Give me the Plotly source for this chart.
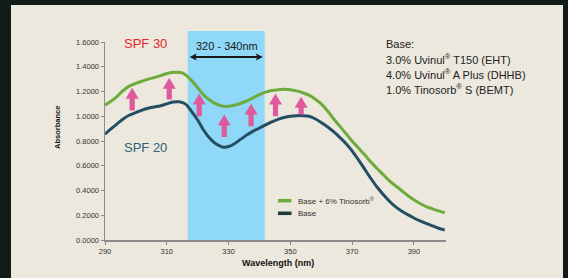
import plotly.graph_objects as go

# ---- data ----
wavelength = [290, 293, 296, 298, 301, 304, 307, 310, 313, 315, 318, 320, 322, 324, 326, 328,
              330, 332, 334, 336, 338, 340, 342, 344, 346, 348, 350, 352, 354, 356, 358, 360,
              362, 364, 366, 368, 370, 372, 374, 376, 378, 380, 382, 384, 386, 388, 390, 392,
              394, 396, 398, 400]
spf30 = [1.09, 1.14, 1.21, 1.245, 1.275, 1.30, 1.32, 1.345, 1.355, 1.35, 1.29, 1.23, 1.17, 1.13,
         1.10, 1.082, 1.08, 1.09, 1.105, 1.125, 1.15, 1.175, 1.195, 1.208, 1.215, 1.218, 1.215,
         1.205, 1.19, 1.17, 1.14, 1.10, 1.045, 0.98, 0.92, 0.86, 0.80, 0.745, 0.69, 0.632, 0.58,
         0.53, 0.48, 0.44, 0.40, 0.36, 0.325, 0.295, 0.27, 0.252, 0.235, 0.22]
wl_base = [290, 292, 294, 296, 298, 300, 302, 304, 306, 308, 310, 312, 314, 316, 318, 320, 322,
           324, 326, 328, 330, 332, 334, 336, 338, 340, 342, 344, 346, 348, 350, 352, 354, 356,
           358, 360, 362, 364, 366, 368, 370, 372, 374, 376, 378, 380, 382, 384, 386, 388, 390,
           392, 394, 396, 398, 400]
base = [0.855, 0.90, 0.94, 0.98, 1.01, 1.03, 1.05, 1.065, 1.075, 1.085, 1.10, 1.115, 1.117, 1.10,
        1.04, 0.97, 0.885, 0.82, 0.775, 0.752, 0.755, 0.78, 0.815, 0.85, 0.88, 0.905, 0.93, 0.955,
        0.975, 0.99, 1.0, 1.005, 1.005, 1.0, 0.98, 0.95, 0.915, 0.875, 0.83, 0.78, 0.72, 0.65, 0.575,
        0.50, 0.43, 0.37, 0.315, 0.27, 0.235, 0.205, 0.178, 0.155, 0.135, 0.115, 0.095, 0.08]
series_names = ["Base + 6% Tinosorb<sup>®</sup>", "Base"]

arrow_x = [298.8, 310.8, 320.5, 328.6, 337.3, 345.2, 353.5]
arrow_base = [1.046, 1.135, 1.0, 0.833, 0.919, 1.0, 1.014]
arrow_tip = [1.23, 1.311, 1.184, 1.014, 1.103, 1.184, 1.157]

band_range = [316.8, 341.7]
band_label = "320 - 340nm"
base_text = ["Base:", "3.0% Uvinul<sup>®</sup> T150 (EHT)",
             "4.0% Uvinul<sup>®</sup> A Plus (DHHB)", "1.0% Tinosorb<sup>®</sup> S (BEMT)"]

x_ticks = [290, 310, 330, 350, 370, 390]
y_ticks = [0, 0.2, 0.4, 0.6, 0.8, 1.0, 1.2, 1.4, 1.6]

# ---- style ----
W, H = 568, 278
ML, MR, MT, MB = 105, 122, 42, 38
XR = [290, 400.4]
YR = [0, 1.6]
PW, PH = W - ML - MR, H - MT - MB
FONT = "Liberation Sans, Arial, sans-serif"
GREEN = "#6eab3c"
TEAL = "#234f64"
DARKLEG = "#1f3a36"
PINK = "#df5a9c"
BAND = "#8fd8f7"
PANEL = "#ece8dd"
BG = "#111b18"
AXIS = "#8c8c8c"
INK = "#1a1a1a"


def px_x(p):
    return (p - ML) / PW


def px_y(p):
    return (H - MB - p) / PH


def dx_per_px():
    return (XR[1] - XR[0]) / PW


def dy_per_px():
    return (YR[1] - YR[0]) / PH


fig = go.Figure()
fig.add_trace(go.Scatter(x=wavelength, y=spf30, mode="lines", line=dict(color=GREEN, width=3, shape="spline"),
                         name=series_names[0], showlegend=False, hoverinfo="skip"))
fig.add_trace(go.Scatter(x=wl_base, y=base, mode="lines", line=dict(color=TEAL, width=3, shape="spline"),
                         name=series_names[1], showlegend=False, hoverinfo="skip"))

shapes = []
# panel
shapes.append(dict(type="rect", xref="paper", yref="paper", x0=px_x(11), x1=px_x(563),
                   y0=px_y(H + 5), y1=px_y(5), fillcolor=PANEL, line=dict(width=0), layer="below"))
# band
bx0 = (band_range[0] - XR[0]) / (XR[1] - XR[0])
bx1 = (band_range[1] - XR[0]) / (XR[1] - XR[0])
shapes.append(dict(type="rect", xref="paper", yref="paper", x0=bx0, x1=bx1, y0=0, y1=px_y(31),
                   fillcolor=BAND, line=dict(width=0), layer="below"))

# pink block arrows
sw = 2.6 * dx_per_px()
hw = 6.5 * dx_per_px()
hh = 11 * dy_per_px()
for ax_, b, t in zip(arrow_x, arrow_base, arrow_tip):
    neck = t - hh
    path = (f"M {ax_-sw},{b} L {ax_+sw},{b} L {ax_+sw},{neck} L {ax_+hw},{neck} "
            f"L {ax_},{t} L {ax_-hw},{neck} L {ax_-sw},{neck} Z")
    shapes.append(dict(type="path", xref="x", yref="y", path=path, fillcolor=PINK,
                       line=dict(width=0), layer="above"))

# double-headed arrow over the band
ya = (H - MB - 57) * dy_per_px()
hl = 7 * dx_per_px()
hv = 3.5 * dy_per_px()
xl, xr = band_range[0] + 0.6, band_range[1] - 0.6
shapes.append(dict(type="line", xref="x", yref="y", x0=xl + hl * 0.5, x1=xr - hl * 0.5, y0=ya, y1=ya,
                   line=dict(color=INK, width=1.8)))
shapes.append(dict(type="path", xref="x", yref="y",
                   path=f"M {xl},{ya} L {xl+hl},{ya+hv} L {xl+hl*0.8},{ya} L {xl+hl},{ya-hv} Z",
                   fillcolor=INK, line=dict(width=0)))
shapes.append(dict(type="path", xref="x", yref="y",
                   path=f"M {xr},{ya} L {xr-hl},{ya+hv} L {xr-hl*0.8},{ya} L {xr-hl},{ya-hv} Z",
                   fillcolor=INK, line=dict(width=0)))

# manual legend samples
leg_y = [200.7, 213.3]
leg_col = [GREEN, DARKLEG]
for yy, cc in zip(leg_y, leg_col):
    shapes.append(dict(type="line", xref="paper", yref="paper", x0=px_x(278), x1=px_x(291.5),
                       y0=px_y(yy), y1=px_y(yy), line=dict(color=cc, width=3.5)))

annotations = []
for yy, name in zip(leg_y, series_names):
    annotations.append(dict(xref="paper", yref="paper", x=px_x(295.5), y=px_y(yy), text=name,
                            showarrow=False, xanchor="left", yanchor="middle",
                            font=dict(family=FONT, size=8, color="#333333")))

# SPF labels
annotations.append(dict(xref="paper", yref="paper", x=px_x(145), y=px_y(44), text="SPF 30",
                        showarrow=False, xanchor="center", yanchor="middle",
                        font=dict(family=FONT, size=13, color="#e8252c")))
annotations.append(dict(xref="paper", yref="paper", x=px_x(145), y=px_y(147), text="SPF 20",
                        showarrow=False, xanchor="center", yanchor="middle",
                        font=dict(family=FONT, size=13, color="#2e5f7c")))

# band label
mid = (band_range[0] + band_range[1]) / 2
annotations.append(dict(xref="x", yref="paper", x=mid + 0.3, y=px_y(46), text=band_label,
                        showarrow=False, xanchor="center", yanchor="middle",
                        font=dict(family=FONT, size=11, color=INK)))

# Base text
for i, line in enumerate(base_text):
    annotations.append(dict(xref="paper", yref="paper", x=px_x(384), y=px_y(44 + 15 * i), text=line,
                            showarrow=False, xanchor="left", yanchor="middle",
                            font=dict(family=FONT, size=11, color="#222222")))

# axis titles
annotations.append(dict(xref="paper", yref="paper", x=px_x(57), y=px_y(127), text="<b>Absorbance</b>",
                        showarrow=False, textangle=-90, xanchor="center", yanchor="middle",
                        font=dict(family=FONT, size=7.5, color="#111111")))
annotations.append(dict(xref="paper", yref="paper", x=px_x(278), y=px_y(263), text="<b>Wavelength (nm)</b>",
                        showarrow=False, xanchor="center", yanchor="middle",
                        font=dict(family=FONT, size=9, color="#111111")))

fig.update_layout(
    width=W, height=H,
    margin=dict(l=ML, r=MR, t=MT, b=MB, pad=0),
    paper_bgcolor=BG, plot_bgcolor="rgba(0,0,0,0)",
    shapes=shapes, annotations=annotations, showlegend=False, hovermode=False,
    xaxis=dict(range=XR, tickvals=x_ticks, ticktext=[str(v) for v in x_ticks], showline=True,
               linecolor=AXIS, linewidth=1.5, ticks="outside", ticklen=3, tickwidth=1, tickcolor=AXIS,
               showgrid=False, zeroline=False, tickfont=dict(family=FONT, size=7.5, color="#333333")),
    yaxis=dict(range=YR, tickvals=y_ticks, ticktext=[f"{v:.4f}" for v in y_ticks], showline=True,
               linecolor=AXIS, linewidth=1.5, ticks="outside", ticklen=3, tickwidth=1, tickcolor=AXIS,
               showgrid=False, zeroline=False, tickfont=dict(family=FONT, size=7.5, color="#333333")),
)

fig.write_html("out.html", config={"displayModeBar": False, "staticPlot": True},
               post_script="document.body.style.margin='0';document.body.style.overflow='hidden';"
                           "document.body.style.background='" + BG + "';")
